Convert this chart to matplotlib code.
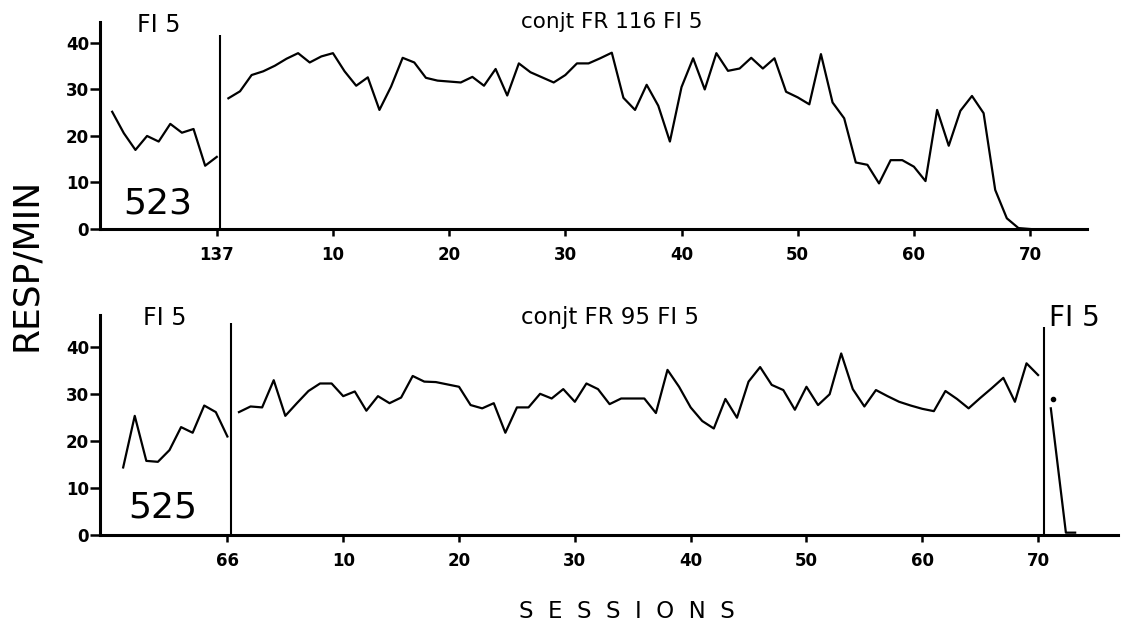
import numpy as np
import matplotlib
matplotlib.use("Agg")
from matplotlib import pyplot as plt

# subject 523: FI 5 baseline (last 10 sessions, ending at 137) then conjt FR 116 FI 5
base_523 = [25.2, 20.6, 17.0, 20.0, 18.8, 22.6, 20.7, 21.5, 13.6, 15.5]
conj_523 = [28.1, 29.6, 33.1, 33.9, 35.1, 36.6, 37.8, 35.8, 37.1, 37.8,
            33.9, 30.8, 32.6, 25.6, 30.6, 36.8, 35.8, 32.5, 31.9, 31.7,
            31.5, 32.7, 30.8, 34.4, 28.7, 35.6, 33.7, 32.6, 31.5, 33.1,
            35.6, 35.6, 36.7, 37.9, 28.2, 25.6, 31.0, 26.5, 18.8, 30.5,
            36.7, 30.0, 37.8, 34.0, 34.5, 36.8, 34.5, 36.7, 29.5, 28.3,
            26.8, 37.6, 27.2, 23.8, 14.3, 13.8, 9.8, 14.8, 14.8, 13.4,
            10.3, 25.6, 17.9, 25.4, 28.6, 24.9, 8.4, 2.3, 0.2, 0.0]

# subject 525: FI 5 baseline (ending at 66), conjt FR 95 FI 5, then FI 5 again
base_525 = [14.4, 25.4, 15.8, 15.6, 18.1, 23.0, 21.8, 27.6, 26.2, 21.0]
conj_525 = [26.2, 27.4, 27.2, 33.0, 25.4, 28.1, 30.7, 32.3, 32.3, 29.6,
            30.6, 26.5, 29.6, 28.1, 29.3, 33.9, 32.7, 32.6, 32.1, 31.6,
            27.7, 27.0, 28.1, 21.8, 27.2, 27.2, 30.1, 29.1, 31.1, 28.4,
            32.3, 31.1, 27.9, 29.1, 29.1, 29.1, 26.0, 35.2, 31.6, 27.2,
            24.3, 22.7, 29.0, 25.0, 32.7, 35.8, 32.0, 30.9, 26.7, 31.6,
            27.7, 30.0, 38.7, 31.1, 27.4, 30.9, 29.6, 28.4, 27.6, 26.9,
            26.4, 30.7, 29.0, 27.0, 29.2, 31.3, 33.5, 28.4, 36.6, 34.1]
refi_x = [71.1, 72.4, 73.2]
refi_y = [27.0, 0.5, 0.5]
dot_x = [71.3]
dot_y = [29.0]

xticks = [0, 10, 20, 30, 40, 50, 60, 70]
xlab_523 = ["137", "10", "20", "30", "40", "50", "60", "70"]
xlab_525 = ["66", "10", "20", "30", "40", "50", "60", "70"]
yticks = [0, 10, 20, 30, 40]


def style_axes(ax, xlabels):
    for s in ["top", "right"]:
        ax.spines[s].set_visible(False)
    for s in ["left", "bottom"]:
        ax.spines[s].set_linewidth(2.2)
    ax.set_yticks(yticks)
    ax.set_xticks(xticks)
    ax.set_xticklabels(xlabels)
    ax.tick_params(axis="y", direction="out", length=7, width=1.8, pad=1,
                   labelsize=12)
    ax.tick_params(axis="x", direction="out", length=5, width=1.8, pad=7,
                   labelsize=12)
    for t in ax.get_xticklabels() + ax.get_yticklabels():
        t.set_fontweight("bold")


fig = plt.figure(figsize=(11.27, 6.25), dpi=100)
W, H = 1127.0, 625.0

# top panel
ax1 = fig.add_axes([100 / W, 1 - 229 / H, 987 / W, 207 / H])
ax1.plot(np.arange(-9, 1), base_523, color="black", lw=1.6)
ax1.plot(np.arange(1, 71), conj_523, color="black", lw=1.6)
ax1.vlines(0.3, 0, 41.7, color="black", lw=1.5)
ax1.set_xlim(-10.05, 74.9)
ax1.set_ylim(0, 44.5)
style_axes(ax1, xlab_523)
ax1.text(-5.0, 43.9, "FI 5", fontsize=17, ha="center", va="center")
ax1.text(-5.1, 5.5, "523", fontsize=26, ha="center", va="center")
ax1.text(34.0, 44.5, "conjt FR 116 FI 5", fontsize=15.5, ha="center",
         va="center", clip_on=False)

# bottom panel
ax2 = fig.add_axes([100 / W, 1 - 535 / H, 1018 / W, 220 / H])
ax2.plot(np.arange(-9, 1), base_525, color="black", lw=1.6)
ax2.plot(np.arange(1, 71), conj_525, color="black", lw=1.6)
ax2.plot(refi_x, refi_y, color="black", lw=1.6)
ax2.plot(dot_x, dot_y, "o", color="black", ms=3)
ax2.vlines(0.27, 0, 45.2, color="black", lw=1.5)
ax2.vlines(70.5, 0, 44.3, color="black", lw=1.5)
ax2.set_xlim(-11.0, 76.9)
ax2.set_ylim(0, 46.9)
style_axes(ax2, xlab_525)
ax2.text(-5.4, 46.3, "FI 5", fontsize=17, ha="center", va="center",
         clip_on=False)
ax2.text(-5.55, 5.8, "525", fontsize=26, ha="center", va="center")
ax2.text(33.0, 46.3, "conjt FR 95 FI 5", fontsize=16.5, ha="center",
         va="center", clip_on=False)
ax2.text(73.1, 46.3, "FI 5", fontsize=20, ha="center", va="center",
         clip_on=False)

fig.text(26 / W, 1 - 264 / H, "RESP/MIN", rotation=90, fontsize=26,
         ha="center", va="center")
fig.text(627 / W, 1 - 611 / H, "S  E  S  S  I  O  N  S", fontsize=16.5,
         ha="center", va="center")

fig.savefig("out.png", dpi=100)
